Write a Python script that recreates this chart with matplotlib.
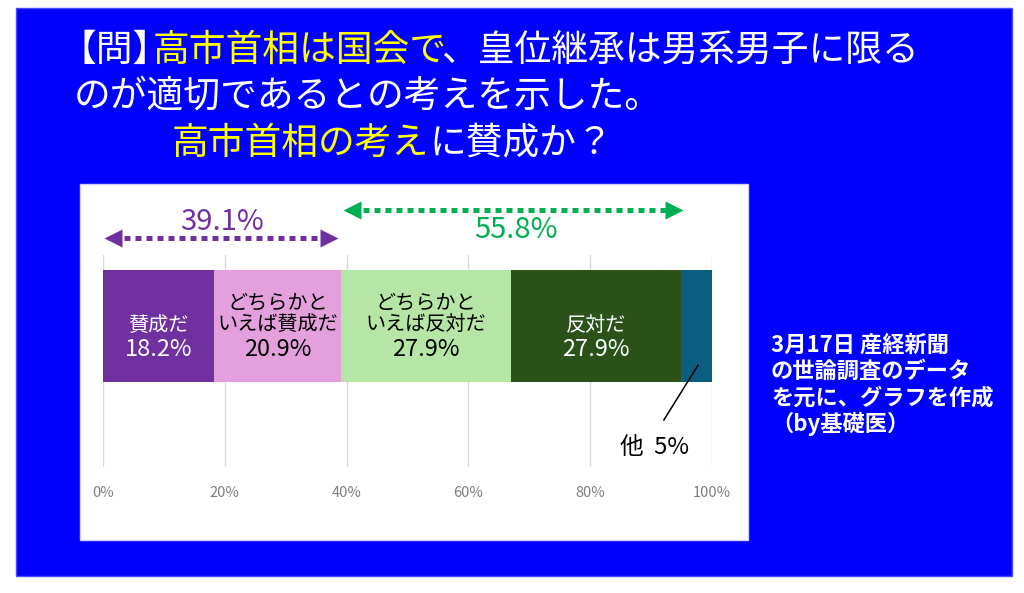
import matplotlib
matplotlib.use("Agg")
import matplotlib.pyplot as plt
from matplotlib.patches import Rectangle

plt.rcParams['font.family'] = ['Noto Sans CJK JP', 'DejaVu Sans']

# survey values (%)
labels = ['賛成だ', 'どちらかと\nいえば賛成だ', 'どちらかと\nいえば反対だ', '反対だ', '他']
values = [18.2, 20.9, 27.9, 27.9, 5.1]
value_labels = ['18.2%', '20.9%', '27.9%', '27.9%', '5%']
colors = ['#7030A0', '#E4A0DC', '#B5E6A6', '#2A5219', '#0B5E80']
text_colors = ['white', 'black', 'black', 'white', 'black']
agree_total = '39.1%'
disagree_total = '55.8%'
ticks = [0, 20, 40, 60, 80, 100]

# title pieces: (text, colour, offset in px before the piece)
title_line1 = [('【問】', 'white', 0), ('高市首相は国会で', '#FFFF00', -18),
               ('、皇位継承は男系男子に限る', 'white', -5)]
title_line2 = [('のが適切であるとの考えを示した。', 'white', 0)]
title_line3 = [('高市首相の考え', '#FFFF00', 0), ('に賛成か？', 'white', 0)]
note_lines = ['3月17日 産経新聞', 'の世論調査のデータ', 'を元に、グラフを作成', '（by基礎医）']

fig = plt.figure(figsize=(10.24, 5.93), dpi=100)
fig.patch.set_facecolor('white')

# background layer in pixel coords
bg = fig.add_axes([0, 0, 1, 1], zorder=0)
bg.set_xlim(0, 1024)
bg.set_ylim(593, 0)
bg.axis('off')
bg.add_patch(Rectangle((16, 8), 996, 568, facecolor='#0000FF', edgecolor='#4A4AFF', lw=1))
bg.add_patch(Rectangle((80, 184), 668, 356, facecolor='white', edgecolor='#D0D0FF', lw=1))

def draw_line(parts, x, y, size):
    t = bg.text(x, y, parts[0][0], color=parts[0][1], fontsize=size, ha='left', va='center')
    for txt, col, off in parts[1:]:
        t = bg.annotate(txt, xy=(1, 0), xycoords=t, xytext=(off * 0.72, 0),
                        textcoords='offset points', color=col, fontsize=size,
                        ha='left', va='bottom')
    return t

draw_line(title_line1, 60, 50, 26.5)
draw_line(title_line2, 74, 96, 26.5)
draw_line(title_line3, 172, 143, 26.5)

for i, line in enumerate(note_lines):
    bg.text(771, 345 + i * 26.3, line, color='white', fontsize=16, fontweight='bold',
            ha='left', va='center')

# chart axes
ax = fig.add_axes([103 / 1024, 1 - 467 / 593, 609 / 1024, 212 / 593], zorder=1)
ax.set_facecolor('none')
ax.set_xlim(0, 100)
ax.set_ylim(0, 1)
for s in ax.spines.values():
    s.set_visible(False)
ax.set_xticks(ticks)
ax.set_xticklabels(['%d%%' % t for t in ticks])
ax.tick_params(axis='x', length=0, pad=14, labelsize=10.5, labelcolor='#7F7F7F')
ax.set_yticks([])
ax.grid(axis='x', color='#D9D9D9', lw=1)
ax.set_axisbelow(True)

left = 0
bar_y, bar_h = 0.665, 0.528
for i, v in enumerate(values):
    ax.barh(bar_y, v, left=left, height=bar_h, color=colors[i], edgecolor='none')
    cx = left + v / 2
    if i < 4:
        name_y = 0.724 if '\n' in labels[i] else 0.668
        ax.text(cx, name_y, labels[i], ha='center', va='center', fontsize=14.5,
                color=text_colors[i], linespacing=1.0)
        ax.text(cx, 0.553, value_labels[i], ha='center', va='center', fontsize=17,
                color=text_colors[i])
    left += v

# label for the small segment with leader line
ax.plot([97.7, 92.1], [0.48, 0.222], color='black', lw=1.1, clip_on=False)
ax.text(90.6, 0.094, '他  ' + value_labels[4], ha='center', va='center', fontsize=17, color='black')

# range arrows
def range_arrow(x0, x1, y, col):
    head = 1.5
    ax.plot([x0 + head, x1 - head], [y, y], color=col, lw=3.6,
            linestyle=(0, (1.2, 1.0)), dash_capstyle='butt', clip_on=False)
    ax.plot([x0 + head], [y], marker='<', ms=13, color=col, mec='none', clip_on=False)
    ax.plot([x1 - head], [y], marker='>', ms=13, color=col, mec='none', clip_on=False)

agree = values[0] + values[1]
disagree = values[2] + values[3]
range_arrow(0.2, agree - 0.5, 1.080, '#7030A0')
range_arrow(agree + 0.3, agree + disagree + 0.3, 1.212, '#00B050')
ax.text(19.5, 1.156, agree_total, ha='center', va='center', fontsize=21, color='#7030A0')
ax.text(67.8, 1.118, disagree_total, ha='center', va='center', fontsize=21, color='#00B050')

fig.savefig('out.png', dpi=100, facecolor='white')
